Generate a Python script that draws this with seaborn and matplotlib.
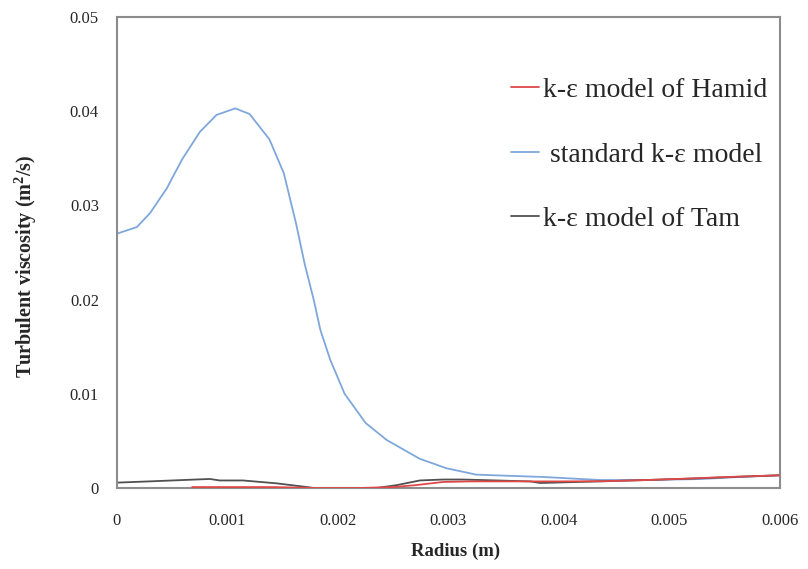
import numpy as np
import pandas as pd
import matplotlib
matplotlib.use("Agg")
import matplotlib.pyplot as plt
import seaborn as sns

# ---- data ----
radius_std = [0.0, 0.00018, 0.0003, 0.00045, 0.00059, 0.00075, 0.0009, 0.00107, 0.0012,
              0.00138, 0.00151, 0.00162, 0.00170, 0.00178, 0.00184, 0.00193, 0.00206,
              0.00225, 0.00244, 0.00256, 0.00274, 0.00298, 0.00325, 0.00358, 0.00386,
              0.00419, 0.00437, 0.0048, 0.00528, 0.0056, 0.006]
visc_std = [0.0270, 0.0277, 0.0292, 0.0318, 0.0349, 0.0378, 0.0396, 0.0403, 0.0397,
            0.0370, 0.0334, 0.0281, 0.0237, 0.0200, 0.0168, 0.0136, 0.0100,
            0.0069, 0.0051, 0.0043, 0.0031, 0.0021, 0.00142, 0.00128, 0.00117,
            0.00096, 0.00085, 0.00085, 0.00095, 0.00115, 0.00135]

radius_tam = [0.0, 0.00033, 0.0005, 0.00084, 0.00093, 0.00114, 0.00144, 0.00172, 0.00178,
              0.00235, 0.00253, 0.00274, 0.00295, 0.00313, 0.00374, 0.00383, 0.0042,
              0.00467, 0.0052, 0.0056, 0.006]
visc_tam = [0.00057, 0.00072, 0.0008, 0.00096, 0.0008, 0.0008, 0.0005, 0.0001, 0.0,
            0.0, 0.0003, 0.0008, 0.0009, 0.0009, 0.0007, 0.00053, 0.00065,
            0.0008, 0.00100, 0.00118, 0.00135]

radius_hamid = [0.00068, 0.0010, 0.0014, 0.0018, 0.0022, 0.0025, 0.0027, 0.00295,
                0.0032, 0.0036, 0.0040, 0.0044, 0.0048, 0.0052, 0.0056, 0.0060]
visc_hamid = [0.0001, 0.0001, 0.0001, 0.0, 0.0, 0.0001, 0.0003, 0.00064,
              0.0007, 0.0007, 0.0007, 0.00072, 0.00085, 0.00102, 0.0012, 0.00135]

labels = ["k-\u03b5 model of Hamid", " standard k-\u03b5 model", "k-\u03b5 model of Tam"]
x_ticks = [0, 0.001, 0.002, 0.003, 0.004, 0.005, 0.006]
x_ticklabels = ["0", "0.001", "0.002", "0.003", "0.004", "0.005", "0.006"]
y_ticks = [0, 0.01, 0.02, 0.03, 0.04, 0.05]
y_ticklabels = ["0", "0.01", "0.02", "0.03", "0.04", "0.05"]

sns.set_theme(style="white")
plt.rcParams['font.family'] = ['Liberation Serif', 'DejaVu Serif']
plt.rcParams['mathtext.fontset'] = 'custom'
plt.rcParams['mathtext.rm'] = 'Liberation Serif'
plt.rcParams['mathtext.bf'] = 'Liberation Serif:bold'

fig = plt.figure(figsize=(8.08, 5.69), dpi=100)
ax = fig.add_axes([117/808, 1 - 488/569, 663/808, 471/569])

df_h = pd.DataFrame({"r": radius_hamid, "v": visc_hamid})
df_s = pd.DataFrame({"r": radius_std, "v": visc_std})
df_t = pd.DataFrame({"r": radius_tam, "v": visc_tam})

sns.lineplot(data=df_h, x="r", y="v", ax=ax, color="#e04848", lw=1.3, label=labels[0], zorder=3)
sns.lineplot(data=df_s, x="r", y="v", ax=ax, color="#7fa7dc", lw=1.3, label=labels[1], zorder=2)
sns.lineplot(data=df_t, x="r", y="v", ax=ax, color="#505050", lw=1.3, label=labels[2], zorder=2)

ax.set_xlim(0, 0.006)
ax.set_ylim(0, 0.05)
ax.set_xticks(x_ticks)
ax.set_xticklabels(x_ticklabels, fontsize=12)
ax.set_yticks(y_ticks)
ax.set_yticklabels(y_ticklabels, fontsize=12)
ax.tick_params(axis='x', direction='inout', length=8, width=1, color='#808080', pad=14)
ax.tick_params(axis='y', direction='out', length=5, width=1, color='#808080', pad=8)
ax.set_xlabel("Radius (m)", fontsize=13.5, fontweight='bold', labelpad=10)
ax.xaxis.label.set_x(0.51)
ax.set_ylabel("Turbulent viscosity (m$^{\\mathbf{2}}$/s)", fontsize=14.5, fontweight='bold',
              labelpad=22)
ax.yaxis.label.set_y(0.471)

for s in ax.spines.values():
    s.set_color('#8c8c8c')
    s.set_linewidth(1.5)

leg = ax.legend(loc='upper left', bbox_to_anchor=(0.595, 0.871), frameon=False,
                fontsize=20, handlelength=1.0, handletextpad=0.15, labelspacing=1.4,
                borderpad=0, borderaxespad=0)

fig.savefig("out.png", dpi=100)
